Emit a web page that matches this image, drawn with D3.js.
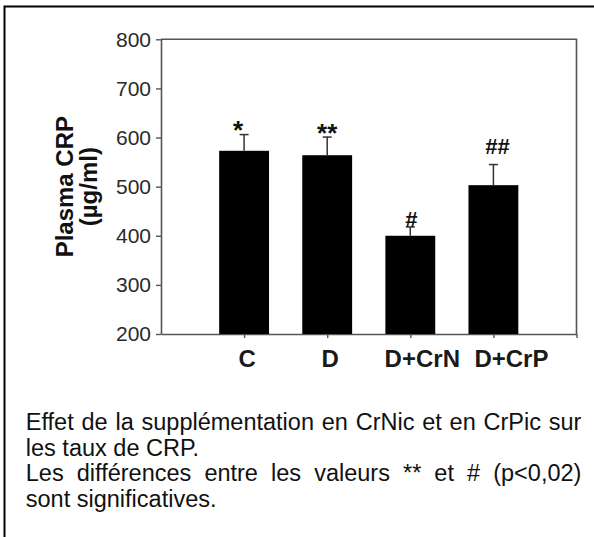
<!DOCTYPE html>
<html>
<head>
<meta charset="utf-8">
<script src="https://cdn.jsdelivr.net/npm/d3@7"></script>
<style>
  body { margin: 0; background: #fff; }
  svg { display: block; font-family: "Liberation Sans", Arial, sans-serif; }
</style>
</head>
<body>
<div id="chart"></div>
<script>
// groups and values (plasma CRP, µg/ml)
var groups = ["C", "D", "D+CrN", "D+CrP"];
var means = [573, 564, 400, 503];
var errTops = [606, 601, 418, 545];
var marks = ["*", "**", "#", "##"];
var yTicks = [200, 300, 400, 500, 600, 700, 800];

var captionLines = [
    "Effet de la supplémentation en CrNic et en CrPic sur",
    "les taux de CRP.",
    "Les différences entre les valeurs ** et # (p<0,02)",
    "sont significatives."
];
var justified = [true, false, true, false];

var width = 594, height = 537;
var plot = { left: 161, right: 576.5, top: 39.3, bottom: 334 };

var svg = d3.select("#chart").append("svg")
    .attr("width", width)
    .attr("height", height);

svg.append("rect")
    .attr("width", width).attr("height", height)
    .attr("fill", "#fff");

// outer frame of the figure (runs off the right / bottom edge)
svg.append("rect")
    .attr("x", 4.5).attr("y", 6.5)
    .attr("width", 620).attr("height", 620)
    .attr("fill", "none")
    .attr("stroke", "#000")
    .attr("stroke-width", 2);

// x: category slots with an empty slot on each side, like the original
var slots = ["_a"].concat(groups).concat(["_b"]);
var x = d3.scalePoint()
    .domain(slots)
    .range([plot.left, plot.right]);
var barW = x.step() * 0.6;

var y = d3.scaleLinear()
    .domain([200, 800])
    .range([plot.bottom, plot.top]);

// plot box (top and right sides)
svg.append("path")
    .attr("d", "M" + plot.left + "," + plot.top + "H" + plot.right + "V" + plot.bottom)
    .attr("fill", "none")
    .attr("stroke", "#555")
    .attr("stroke-width", 1.6);

// y axis
var yAxis = svg.append("g")
    .attr("transform", "translate(" + plot.left + ",0)")
    .call(d3.axisLeft(y).tickValues(yTicks).tickSize(5).tickPadding(5).tickSizeOuter(0));
yAxis.select(".domain").attr("stroke", "#555").attr("stroke-width", 1.6);
yAxis.selectAll(".tick line").attr("stroke", "#555").attr("stroke-width", 1.4);
yAxis.selectAll(".tick text")
    .attr("fill", "#2a2a2a")
    .style("font-size", "21px");

// x axis (ticks only, labels drawn below in bold)
var xAxis = svg.append("g")
    .attr("transform", "translate(0," + plot.bottom + ")")
    .call(d3.axisBottom(x).tickValues(slots.slice(1)).tickSize(4).tickFormat("").tickSizeOuter(0));
xAxis.select(".domain").attr("stroke", "#555").attr("stroke-width", 1.6);
xAxis.selectAll(".tick line").attr("stroke", "#555").attr("stroke-width", 1.4);

// the original labels drift right of their ticks a little
var labelShift = [3, 3, 12, 18];
svg.selectAll("text.cat")
    .data(groups)
    .enter()
    .append("text")
    .attr("class", "cat")
    .attr("x", function(d, i) { return x(d) + labelShift[i]; })
    .attr("y", plot.bottom + 33)
    .attr("text-anchor", "middle")
    .style("font-size", "24px")
    .style("font-weight", "bold")
    .attr("fill", "#1a1a1a")
    .text(function(d) { return d; });

// bars
svg.selectAll("rect.bar")
    .data(groups)
    .enter()
    .append("rect")
    .attr("class", "bar")
    .attr("x", function(d) { return x(d) - barW / 2; })
    .attr("y", function(d, i) { return y(means[i]); })
    .attr("width", barW)
    .attr("height", function(d, i) { return y(200) - y(means[i]); })
    .attr("fill", "#000");

// error bars (upper half only)
var err = svg.selectAll("g.err")
    .data(groups)
    .enter()
    .append("g")
    .attr("class", "err")
    .attr("stroke", "#333")
    .attr("stroke-width", 1.5);
err.append("line")
    .attr("x1", function(d) { return x(d); })
    .attr("x2", function(d) { return x(d); })
    .attr("y1", function(d, i) { return y(means[i]); })
    .attr("y2", function(d, i) { return y(errTops[i]); });
err.append("line")
    .attr("x1", function(d) { return x(d) - 4.5; })
    .attr("x2", function(d) { return x(d) + 4.5; })
    .attr("y1", function(d, i) { return y(errTops[i]); })
    .attr("y2", function(d, i) { return y(errTops[i]); });

// significance marks; small nudges so they sit like in the figure
var nudge = { "*": [-6, 4], "**": [0, 4.5], "#": [1, 0], "##": [4, -11] };
svg.selectAll("text.mark")
    .data(groups)
    .enter()
    .append("text")
    .attr("class", "mark")
    .attr("x", function(d, i) { return x(d) + nudge[marks[i]][0]; })
    .attr("y", function(d, i) { return y(errTops[i]) + nudge[marks[i]][1]; })
    .attr("text-anchor", "middle")
    .style("font-size", function(d, i) { return marks[i].charAt(0) === "*" ? "26px" : "22px"; })
    .style("font-weight", "bold")
    .attr("fill", "#111")
    .text(function(d, i) { return marks[i]; });

// y axis title, two lines
var cy = (plot.top + plot.bottom) / 2;
[["Plasma CRP", 72.5], ["(\u00b5g/ml)", 97]].forEach(function(l) {
    svg.append("text")
        .attr("transform", "translate(" + l[1] + "," + cy + ") rotate(-90)")
        .attr("text-anchor", "middle")
        .style("font-size", "24px")
        .style("font-weight", "bold")
        .attr("fill", "#111")
        .text(l[0]);
});

// caption, justified like the original paragraph
var capLeft = 25.8, capRight = 581.4, capTop = 430, lineGap = 25.6;
captionLines.forEach(function(line, li) {
    var t = svg.append("text")
        .attr("y", capTop + li * lineGap)
        .style("font-size", "23.5px")
        .attr("fill", "#111");
    if (!justified[li]) {
        t.attr("x", capLeft).text(line);
        return;
    }
    var words = line.split(" ");
    var spans = words.map(function(w) {
        return t.append("tspan").text(w);
    });
    var widths = spans.map(function(s) { return s.node().getComputedTextLength(); });
    var gap = (capRight - capLeft - d3.sum(widths)) / (words.length - 1);
    var cx = capLeft;
    spans.forEach(function(s, k) {
        s.attr("x", cx);
        cx += widths[k] + gap;
    });
});
</script>
</body>
</html>
